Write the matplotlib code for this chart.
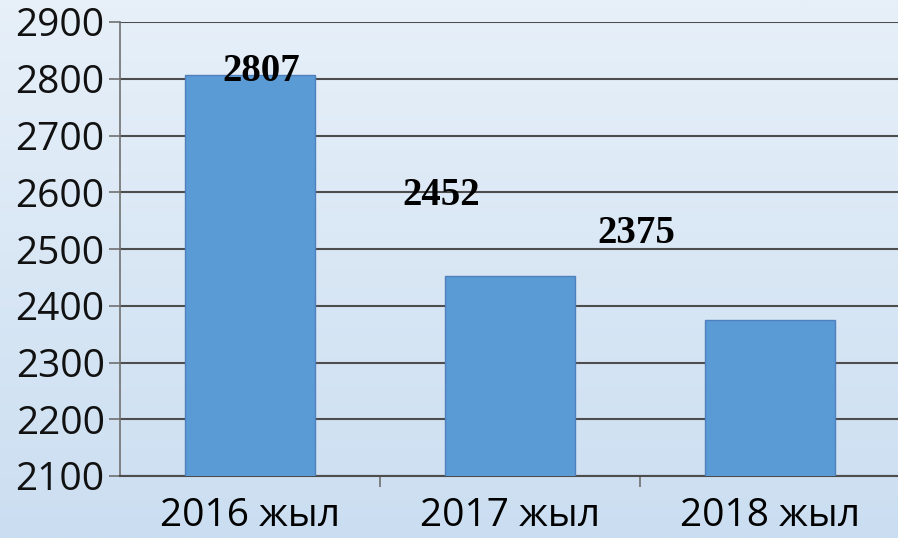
import matplotlib
matplotlib.use("Agg")
import matplotlib.pyplot as plt
import numpy as np
from matplotlib.colors import LinearSegmentedColormap

categories = ["2016 жыл", "2017 жыл", "2018 жыл"]
values = [2807, 2452, 2375]
labels = ["2807", "2452", "2375"]
yticks = [2100, 2200, 2300, 2400, 2500, 2600, 2700, 2800, 2900]

W, H = 898, 538
fig = plt.figure(figsize=(W / 100, H / 100), dpi=100)

# background gradient
bg = fig.add_axes([0, 0, 1, 1], zorder=-10)
grad = np.linspace(0, 1, 256).reshape(-1, 1)
cmap = LinearSegmentedColormap.from_list("bg", ["#e7f0f9", "#cbdef1"])
bg.imshow(grad, aspect="auto", cmap=cmap, extent=[0, 1, 0, 1], origin="upper")
bg.axis("off")

left = 120 / W
bottom = 1 - 476 / H
top = 1 - 22 / H
ax = fig.add_axes([left, bottom, 780 / W, top - bottom])
ax.patch.set_alpha(0)

x = np.arange(len(categories))
ax.bar(x, values, width=0.5, color="#5b9bd5", edgecolor="#4f81bd", linewidth=1.0, zorder=3)

ax.set_ylim(2100, 2900)
ax.set_xlim(-0.5, 2.5)
ax.set_yticks(yticks)
ax.set_yticklabels([str(t) for t in yticks], fontfamily="Open Sans", fontsize=28)
ax.yaxis.grid(True, color="#4d4d4d", linewidth=1.5, zorder=1)
ax.set_axisbelow(True)

ax.set_xticks([0.5, 1.5], minor=False)
ax.set_xticklabels([])
ax.set_xticks(x, minor=True)
ax.set_xticklabels(categories, minor=True, fontfamily="Open Sans", fontsize=28)
ax.tick_params(axis="x", which="minor", length=0, pad=15)
ax.tick_params(axis="x", which="major", length=8, width=1.2, color="#707070", direction="out")
ax.tick_params(axis="y", length=8, width=1.2, color="#707070", pad=3, labelcolor="#111111")

for s in ["top", "right"]:
    ax.spines[s].set_visible(False)
ax.spines["left"].set_color("#707070")
ax.spines["left"].set_linewidth(1.2)
ax.spines["bottom"].set_color("#4d4d4d")
ax.spines["bottom"].set_linewidth(1.5)

offsets = [(0.042, 5), (-0.265, 143), (-0.515, 153)]
for i, (lab, v) in enumerate(zip(labels, values)):
    dx, dy = offsets[i]
    ax.text(i + dx, v + dy, lab, ha="center", va="center", fontfamily="Liberation Serif",
            fontweight="bold", fontsize=28, zorder=5)

fig.savefig("out.png", dpi=100)
